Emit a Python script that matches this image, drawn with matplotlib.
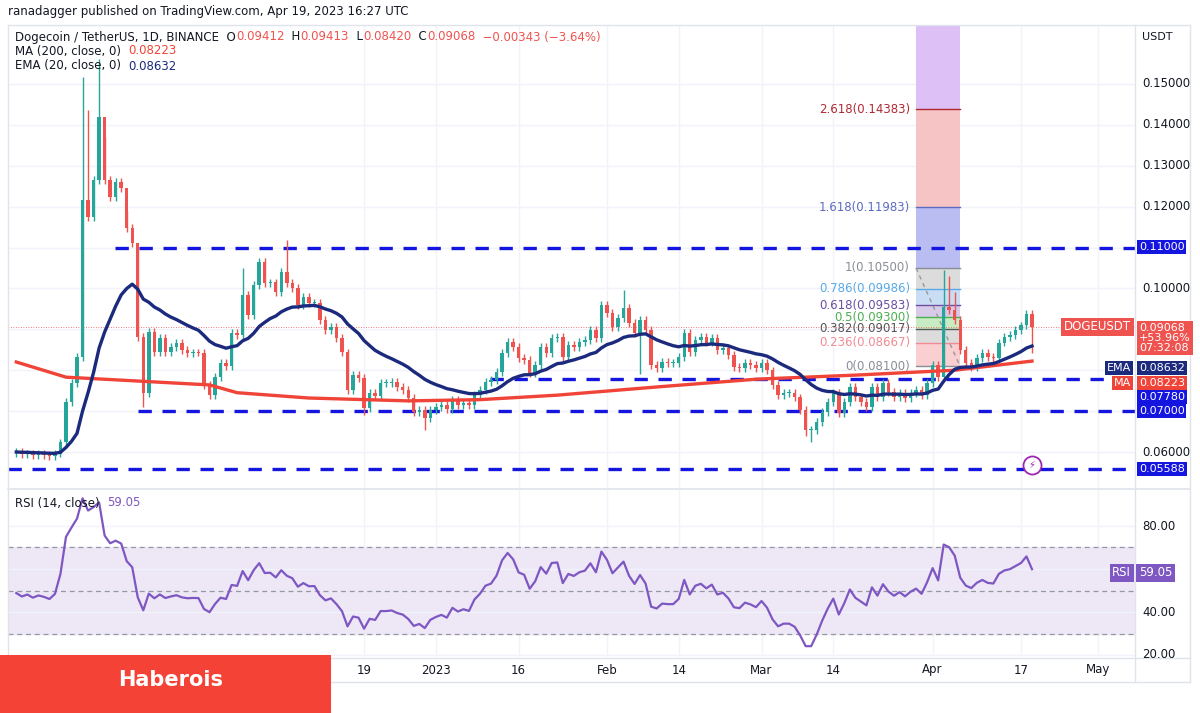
import numpy as np
import pandas as pd
import matplotlib
matplotlib.use("Agg")
import matplotlib.pyplot as plt
import matplotlib.dates as mdates
from matplotlib.patches import Rectangle

# ---------------- data ----------------
closes = [
    0.0600, 0.0594, 0.0597, 0.0592, 0.0595, 0.0593, 0.0590, 0.0596,
    0.0624, 0.0722, 0.0769, 0.0832, 0.1216, 0.1175, 0.1265, 0.1419, 0.1265, 0.1223,
    0.1260, 0.1245, 0.1148, 0.1111, 0.0881, 0.0744, 0.0893, 0.0844, 0.0879, 0.0844,
    0.0857, 0.0867, 0.0849, 0.0842, 0.0844, 0.0843, 0.0764, 0.0739,
    0.0783, 0.0818, 0.0810, 0.0891, 0.0886, 0.0984, 0.0935, 0.1008, 0.1065, 0.1013,
    0.1015, 0.0991, 0.1040, 0.1013, 0.1001, 0.0959, 0.0979, 0.0964, 0.0965, 0.0923,
    0.0898, 0.0906, 0.0879, 0.0844, 0.0752, 0.0788, 0.0781, 0.0708, 0.0744, 0.0737,
    0.0769, 0.0769, 0.0771, 0.0759, 0.0752, 0.0732, 0.0698, 0.0703, 0.0683, 0.0703,
    0.0710, 0.0715, 0.0705, 0.0727, 0.0715, 0.0720,
    0.0715, 0.0739, 0.0752, 0.0771, 0.0776, 0.0796, 0.0842, 0.0869, 0.0857, 0.0830,
    0.0825, 0.0793, 0.0813, 0.0857, 0.0842, 0.0879, 0.0881, 0.0832, 0.0862, 0.0857,
    0.0869, 0.0874, 0.0898, 0.0879, 0.0959, 0.0940, 0.0906, 0.0928, 0.0952, 0.0915,
    0.0891, 0.0923, 0.0898, 0.0813, 0.0805, 0.0820, 0.0818, 0.0818, 0.0832, 0.0891,
    0.0844, 0.0874, 0.0881, 0.0867, 0.0879, 0.0849, 0.0854, 0.0837, 0.0808, 0.0805,
    0.0818, 0.0813, 0.0805, 0.0818, 0.0800, 0.0764, 0.0739, 0.0744, 0.0744, 0.0734,
    0.0703,
    0.0654, 0.0654, 0.0673, 0.0698, 0.0722, 0.0744, 0.0695, 0.0722, 0.0759, 0.0734,
    0.0722, 0.0710, 0.0759, 0.0734, 0.0769, 0.0747, 0.0734, 0.0744, 0.0732, 0.0744,
    0.0752, 0.0739, 0.0769, 0.0813, 0.0783, 0.0955, 0.0947, 0.0923, 0.0849, 0.0818,
    0.0808, 0.0830, 0.0842, 0.0832, 0.0830, 0.0867, 0.0881, 0.0886, 0.0898, 0.0910,
    0.0937, 0.09068,
]
first_open = 0.0598
special_highs = {12: 0.1517, 13: 0.1436, 15: 0.1560, 16: 0.1370, 20: 0.1190,
                 22: 0.1100, 49: 0.1118, 110: 0.0996, 168: 0.1045, 169: 0.1030,
                 170: 0.0990, 41: 0.1050}
special_lows = {23: 0.0710, 74: 0.0654, 144: 0.0624, 184: 0.0842, 143: 0.0640,
                63: 0.0690, 113: 0.0790}
ma200_idx = [0, 9, 20, 35, 40, 53, 71, 84, 98, 116, 134, 152, 170, 184]
ma200_val = [0.0820, 0.0783, 0.0775, 0.0764, 0.0745, 0.0732, 0.0725, 0.0728, 0.0739,
             0.0759, 0.0778, 0.0788, 0.0800, 0.08223]
hlines = [0.11, 0.0778, 0.07, 0.05588]
hline_start = [115, 490, 138, 8]  # pixel x start
hline_tag_y = [247, 397, 411, 469]  # tag pixel rows (shifted to avoid collisions)
fib_levels = [0, 0.236, 0.382, 0.5, 0.618, 0.786, 1, 1.618, 2.618]
fib_prices = [0.08100, 0.08667, 0.09017, 0.09300, 0.09583, 0.09986, 0.10500, 0.11983, 0.14383]
price_ticks = [0.06, 0.10, 0.12, 0.13, 0.14, 0.15]
grid_prices = [0.06, 0.07, 0.08, 0.09, 0.10, 0.11, 0.12, 0.13, 0.14, 0.15]
time_ticks = ["2022-12-19", "2023-01-01", "2023-01-16", "2023-02-01", "2023-02-14",
              "2023-03-01", "2023-03-14", "2023-04-01", "2023-04-17", "2023-05-01"]
time_labels = ["19", "2023", "16", "Feb", "14", "Mar", "14", "Apr", "17", "May"]

# ---------------- derived ----------------
n = len(closes)
dates = pd.date_range(end="2023-04-19", periods=n, freq="D")
xs = mdates.date2num(dates)
c = np.array(closes)
o = np.concatenate([[first_open], c[:-1]])
h = np.maximum(o, c) + 0.0009
l = np.minimum(o, c) - 0.0009
for k, v in special_highs.items():
    h[k] = v
for k, v in special_lows.items():
    l[k] = v
ema = pd.Series(c).ewm(span=20, adjust=False).mean().values
ag, al = 0.0007, 0.00075
rsi = []
prev = first_open
for v in c:
    d = v - prev
    ag = (ag * 13 + max(d, 0)) / 14
    al = (al * 13 + max(-d, 0)) / 14
    rsi.append(100 - 100 / (1 + ag / al))
    prev = v
rsi = np.array(rsi)

W, H = 1200, 713
fig = plt.figure(figsize=(12, 7.13), dpi=100)
fig.patch.set_facecolor("white")
PX = 5.52
x_left = xs[-1] - (1032 - 8) / PX
x_right = x_left + (1135 - 8) / PX
def px2x(p):
    return x_left + (p - 8) / PX

def yp(y0, y1):
    return (H - y1) / H, (y1 - y0) / H
b, hh = yp(25, 488)
ax = fig.add_axes([8 / W, b, 1127 / W, hh])
b2, hh2 = yp(490, 657)
ax2 = fig.add_axes([8 / W, b2, 1127 / W, hh2], sharex=ax)

GREEN, RED = "#26a69a", "#ef5350"
ymin, ymax = 0.0512, 0.1644
ax.set_ylim(ymin, ymax)
ax.set_xlim(x_left, x_right)

tick_x = mdates.date2num(pd.to_datetime(time_ticks))
for a in (ax, ax2):
    for tx in tick_x:
        a.axvline(tx, color="#f0f3fa", lw=1, zorder=0)
for pt in grid_prices:
    ax.axhline(pt, color="#f0f3fa", lw=1, zorder=0)

fx0, fx1 = px2x(916), px2x(960)
fib_fill = ["#f9cfd2", "#dcdcdc", "#c8ebc4", "#d8cbe9", "#c9def4", "#dcdcdc", "#b9bdf2", "#f6c4c4"]
for i in range(len(fib_prices) - 1):
    ax.add_patch(Rectangle((fx0, fib_prices[i]), fx1 - fx0, fib_prices[i + 1] - fib_prices[i],
                           facecolor=fib_fill[i], edgecolor="none", zorder=1))
ax.add_patch(Rectangle((fx0, fib_prices[-1]), fx1 - fx0, ymax - fib_prices[-1],
                       facecolor="#dcc0f6", edgecolor="none", zorder=1))
fib_col = ["#8a8d96", "#f28b93", "#555555", "#4caf50", "#6a4fa3", "#5aa9e6", "#8a8d96", "#5c6bc0", "#b22833"]
for lv, pr, col in zip(fib_levels, fib_prices, fib_col):
    ax.plot([fx0, fx1], [pr, pr], color=col, lw=1, zorder=2)
    ax.text(px2x(910), pr, f"{lv:g}({pr:.5f})", color=col, fontsize=8.5,
            ha="right", va="center", zorder=6)
ax.plot([fx0, fx1], [fib_prices[6], fib_prices[0]], color="#999999", lw=1, ls=(0, (3, 3)), zorder=2)

for lev, sx in zip(hlines, hline_start):
    ax.plot([px2x(sx), x_right], [lev, lev], color="#1515e0", lw=2.4, ls=(0, (4, 3.2)), zorder=3)

wbar = 0.62
for i in range(n):
    col = GREEN if c[i] >= o[i] else RED
    ax.vlines(xs[i], l[i], h[i], color=col, lw=1, zorder=4)
    bot = min(o[i], c[i]); ht = max(abs(c[i] - o[i]), 0.00025)
    ax.add_patch(Rectangle((xs[i] - wbar / 2, bot), wbar, ht, facecolor=col, edgecolor="none", zorder=5))

ax.plot(xs[ma200_idx], ma200_val, color="#f04438", lw=2.4, zorder=5)
ax.plot(xs, ema, color="#1c2a7d", lw=2.4, zorder=5)
ax.axhline(c[-1], color="#ef5350", lw=0.6, ls=(0, (1, 2)), zorder=1)

ax.plot(xs[-1], 0.0568, marker="o", ms=13, mfc="white", mec="#9c27b0", mew=1.3, zorder=7, clip_on=False)
ax.text(xs[-1], 0.0568, "⚡", color="#9c27b0", fontsize=7, ha="center", va="center", zorder=8)

for a in (ax, ax2):
    a.set_xticks([]); a.set_yticks([])
    for s in a.spines.values():
        s.set_visible(False)

ax2.set_ylim(19.1, 96.7)
ax2.axhspan(30, 70, color="#ede7f6", zorder=0)
for lv in (70, 50, 30):
    ax2.axhline(lv, color="#9598a1", lw=0.9, ls=(0, (4, 3)), zorder=1)
for lv in (20, 40, 60, 80):
    ax2.axhline(lv, color="#f0f3fa", lw=1, zorder=0)
ax2.plot(xs, rsi, color="#7e57c2", lw=1.6, zorder=3)

for yy, lw in ((25, 1), (489, 1.2), (658, 1), (682, 1)):
    fig.add_artist(plt.Line2D([8 / W, 1190 / W], [1 - yy / H, 1 - yy / H], color="#e0e3eb", lw=lw))
for xx in (8, 1135, 1190):
    fig.add_artist(plt.Line2D([xx / W, xx / W], [1 - 682 / H, 1 - 25 / H], color="#e0e3eb", lw=1))

def fy(y):
    return 1 - y / H
def price_y(p):
    return 452 - (p - 0.06) * 4090

for pt in price_ticks:
    fig.text(1142 / W, fy(price_y(pt)), f"{pt:.5f}", fontsize=8.5, color="#131722", va="center")
fig.text(1142 / W, fy(37), "USDT", fontsize=8, color="#131722", va="center")
for v, yy in ((80, 526), (40, 612), (20, 655)):
    fig.text(1142 / W, fy(yy), f"{v:.2f}", fontsize=8.5, color="#131722", va="center")
for tx, tl in zip(tick_x, time_labels):
    fig.text((8 + (tx - x_left) * PX) / W, fy(670), tl, fontsize=8.5, color="#131722", ha="center", va="center")

def tag(x, y, txt, fc, ha="left", fs=8.5, pad=0.22):
    fig.text(x / W, fy(y), txt, fontsize=fs, color="white", va="center", ha=ha,
             bbox=dict(boxstyle=f"square,pad={pad}", fc=fc, ec="none"))

for lev, ty in zip(hlines, hline_tag_y):
    tag(1139, ty, f"{lev:.5f}", "#1515e0", fs=8, pad=0.15)
fig.text(1139 / W, fy(338), "0.09068\n+53.96%\n07:32:08", fontsize=8, color="white",
         va="center", ha="left", linespacing=1.0,
         bbox=dict(boxstyle="square,pad=0.18", fc="#ef5350", ec="none"))
tag(1131, 327, "DOGEUSDT", "#ef5350", ha="right")
tag(1139, 368, "0.08632", "#1c2a7d", fs=8, pad=0.15)
tag(1131, 368, "EMA", "#1c2a7d", ha="right", fs=8, pad=0.15)
tag(1139, 383, "0.08223", "#f04438", fs=8, pad=0.15)
tag(1131, 383, "MA", "#f04438", ha="right", fs=8, pad=0.15)
tag(1139, 573, "59.05", "#7e57c2")
tag(1131, 573, "RSI", "#7e57c2", ha="right")

fig.text(8 / W, fy(12), "ranadagger published on TradingView.com, Apr 19, 2023 16:27 UTC",
         fontsize=8.5, color="#131722", va="center")
def seg_line(x, y, parts, fs=8.5):
    r = fig.canvas.get_renderer()
    for txt, col in parts:
        t = fig.text(x / W, fy(y), txt, fontsize=fs, color=col, va="center")
        bb = t.get_window_extent(renderer=r)
        x += bb.width
seg_line(15, 37, [("Dogecoin / TetherUS, 1D, BINANCE  O", "#131722"), ("0.09412", RED),
                  ("  H", "#131722"), ("0.09413", RED), ("  L", "#131722"), ("0.08420", RED),
                  ("  C", "#131722"), ("0.09068", RED), ("  \u22120.00343 (\u22123.64%)", RED)])
seg_line(15, 51, [("MA (200, close, 0)  ", "#131722"), ("0.08223", "#f04438")])
seg_line(15, 66, [("EMA (20, close, 0)  ", "#131722"), ("0.08632", "#1c2a7d")])
seg_line(15, 503, [("RSI (14, close)  ", "#131722"), ("59.05", "#7e57c2")])

fig.add_artist(Rectangle((0, 0), 331 / W, (713 - 655) / H, transform=fig.transFigure,
                         facecolor="#f44336", edgecolor="none", zorder=10))
fig.text(118 / W, fy(680), "Haberois", fontsize=15, color="white", fontweight="bold",
         va="center", zorder=11)

fig.savefig("out.png", dpi=100)
